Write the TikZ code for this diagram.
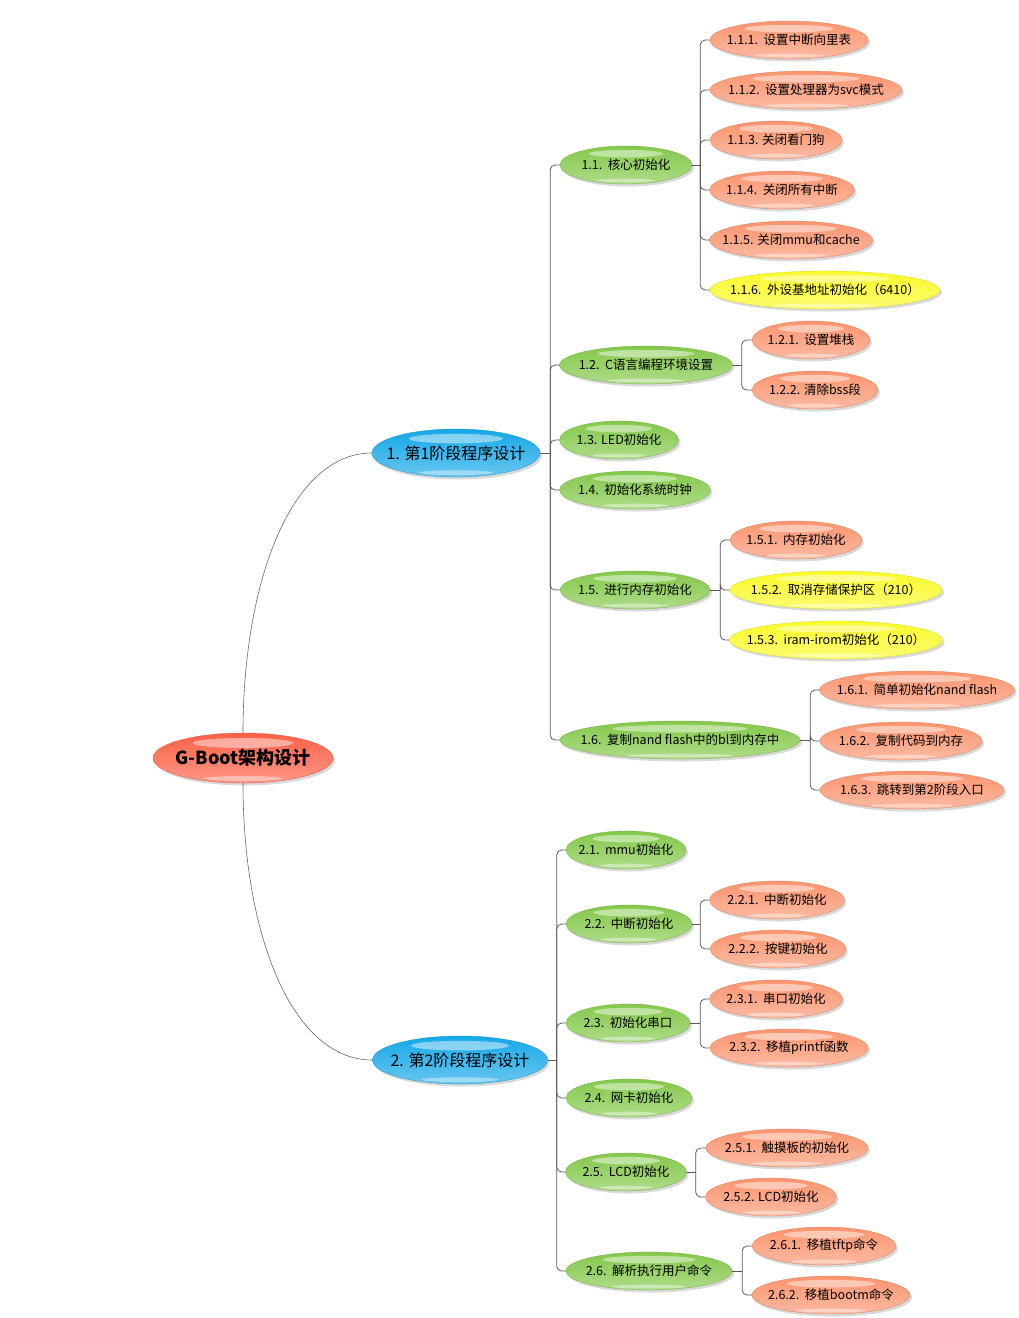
\documentclass[tikz,border=0pt]{standalone}
\usepackage{fontspec}
\setmainfont{Noto Sans CJK SC}
\usetikzlibrary{calc}
\usetikzlibrary{shapes.geometric}
\usetikzlibrary{shadows}

\definecolor{rootred}{RGB}{252,96,70}
\definecolor{stageblue}{RGB}{22,168,232}
\definecolor{branchgreen}{RGB}{132,200,74}
\definecolor{leafred}{RGB}{250,148,110}
\definecolor{leafyellow}{RGB}{250,250,40}

\tikzset{
  gloss/.style={path picture={
    \fill[white,opacity=.45] let \p1=($(path picture bounding box.north east)-(path picture bounding box.south west)$) in
      ([yshift=-.2*\y1]path picture bounding box.north) ellipse ({.28*\x1} and {.1*\y1});
    \fill[white,opacity=.4] let \p1=($(path picture bounding box.north east)-(path picture bounding box.south west)$) in
      ([yshift=.09*\y1]path picture bounding box.south) ellipse ({.22*\x1} and {.05*\y1});
  }},
  bubble/.style={ellipse, top color=#1, bottom color=#1!65!white, draw=#1!85!black, line width=.3pt,
    gloss, drop shadow={shadow xshift=2pt, shadow yshift=-2.5pt, opacity=.3},
    inner xsep=-30pt, inner ysep=0pt, minimum height=38, font=\fontsize{12.5}{14}\selectfont},
  leaf/.style={bubble=leafred},
  note/.style={bubble=leafyellow},
  branch/.style={bubble=branchgreen},
  stage/.style={bubble=stageblue, minimum height=48, font=\fontsize{16}{18}\selectfont},
  ew/.style={minimum width=#1},
  link/.style={draw=black!65, line width=.8pt, rounded corners=5},
  curve/.style={draw=black!60, line width=.6pt},
}

\begin{document}
\begin{tikzpicture}[x=1pt, y=-1pt]
\useasboundingbox (0,0) rectangle (1018,1318);

\node[bubble=rootred, ew=180, minimum height=50, font=\bfseries\fontsize{18}{20}\selectfont] (root) at (243,758) {G-Boot架构设计};
\node[stage, ew=168] (s1) at (456,453) {1. 第1阶段程序设计};
\node[stage, ew=175] (s2) at (460,1060) {2. 第2阶段程序设计};

\draw[curve] (root.north) .. controls (243,580) and (292,453) .. (s1.west);
\draw[curve] (root.south) .. controls (243,935) and (292,1060) .. (s2.west);

% stage 1
\node[branch, ew=132] (b11) at (626,165) {1.1.\ \ 核心初始化};
\node[branch, ew=173] (b12) at (646,365) {1.2.\ \ C语言编程环境设置};
\node[branch, ew=119] (b13) at (619,440) {1.3. LED初始化};
\node[branch, ew=151] (b14) at (635,490) {1.4.\ \ 初始化系统时钟};
\node[branch, ew=150] (b15) at (635,590) {1.5.\ \ 进行内存初始化};
\node[branch, ew=240] (b16) at (680,740) {1.6.\ \ 复制nand flash中的bl到内存中};

\node[leaf, ew=158] (l111) at (789,40) {1.1.1.\ \ 设置中断向里表};
\node[leaf, ew=192] (l112) at (806,90) {1.1.2.\ \ 设置处理器为svc模式};
\node[leaf, ew=132] (l113) at (776,140) {1.1.3. 关闭看门狗};
\node[leaf, ew=145] (l114) at (782,190) {1.1.4.\ \ 关闭所有中断};
\node[leaf, ew=163] (l115) at (791,240) {1.1.5. 关闭mmu和cache};
\node[note, ew=230] (l116) at (825,290) {1.1.6.\ \ 外设基地址初始化（6410）};
\node[leaf, ew=118] (l121) at (811,340) {1.2.1.\ \ 设置堆栈};
\node[leaf, ew=126] (l122) at (815,390) {1.2.2. 清除bss段};
\node[leaf, ew=132] (l151) at (796,540) {1.5.1.\ \ 内存初始化};
\node[note, ew=212] (l152) at (836,590) {1.5.2.\ \ 取消存储保护区（210）};
\node[note, ew=213] (l153) at (836,640) {1.5.3.\ \ iram-irom初始化（210）};
\node[leaf, ew=195] (l161) at (917,690) {1.6.1.\ \ 简单初始化nand flash};
\node[leaf, ew=162] (l162) at (901,741) {1.6.2.\ \ 复制代码到内存};
\node[leaf, ew=184] (l163) at (912,790) {1.6.3.\ \ 跳转到第2阶段入口};

% stage 2
\node[branch, ew=120] (b21) at (626,850) {2.1.\ \ mmu初始化};
\node[branch, ew=126] (b22) at (629,924) {2.2.\ \ 中断初始化};
\node[branch, ew=124] (b23) at (628,1023) {2.3.\ \ 初始化串口};
\node[branch, ew=126] (b24) at (629,1098) {2.4.\ \ 网卡初始化};
\node[branch, ew=121] (b25) at (626,1172) {2.5.\ \ LCD初始化};
\node[branch, ew=166] (b26) at (649,1271) {2.6.\ \ 解析执行用户命令};

\node[leaf, ew=135] (l221) at (777,900) {2.2.1.\ \ 中断初始化};
\node[leaf, ew=136] (l222) at (778,949) {2.2.2.\ \ 按键初始化};
\node[leaf, ew=133] (l231) at (776,999) {2.3.1.\ \ 串口初始化};
\node[leaf, ew=158] (l232) at (789,1048) {2.3.2.\ \ 移植printf函数};
\node[leaf, ew=162] (l251) at (787,1148) {2.5.1.\ \ 触摸板的初始化};
\node[leaf, ew=131] (l252) at (771,1197) {2.5.2. LCD初始化};
\node[leaf, ew=144] (l261) at (824,1246) {2.6.1.\ \ 移植tftp命令};
\node[leaf, ew=158] (l262) at (831,1295) {2.6.2.\ \ 移植bootm命令};

% connectors
\draw[link] (s1.east) -- ++(10,0) coordinate (j1);
\draw[link] (s2.east) -- ++(9,0) coordinate (j2);
\draw[link] (b11.east) -- ++(8,0) coordinate (j11);
\draw[link] (b12.east) -- ++(9,0) coordinate (j12);
\draw[link] (b15.east) -- ++(10,0) coordinate (j15);
\draw[link] (b16.east) -- ++(10,0) coordinate (j16);
\draw[link] (b22.east) -- ++(8,0) coordinate (j22);
\draw[link] (b23.east) -- ++(10,0) coordinate (j23);
\draw[link] (b25.east) -- ++(9,0) coordinate (j25);
\draw[link] (b26.east) -- ++(10,0) coordinate (j26);

\foreach \c in {b11,b12,b13,b14,b15,b16} \draw[link] (j1) |- (\c.west);
\foreach \c in {b21,b22,b23,b24,b25,b26} \draw[link] (j2) |- (\c.west);
\foreach \c in {l111,l112,l113,l114,l115,l116} \draw[link] (j11) |- (\c.west);
\foreach \c in {l121,l122} \draw[link] (j12) |- (\c.west);
\foreach \c in {l151,l152,l153} \draw[link] (j15) |- (\c.west);
\foreach \c in {l161,l162,l163} \draw[link] (j16) |- (\c.west);
\foreach \c in {l221,l222} \draw[link] (j22) |- (\c.west);
\foreach \c in {l231,l232} \draw[link] (j23) |- (\c.west);
\foreach \c in {l251,l252} \draw[link] (j25) |- (\c.west);
\foreach \c in {l261,l262} \draw[link] (j26) |- (\c.west);
\end{tikzpicture}
\end{document}
